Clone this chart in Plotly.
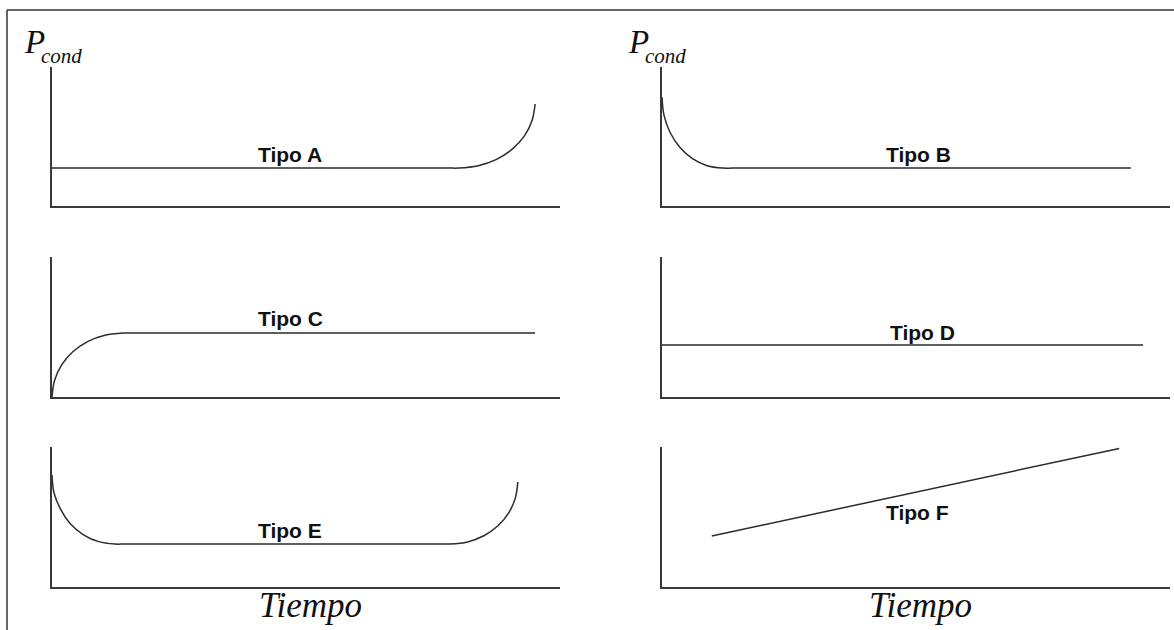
import plotly.graph_objects as go

# ---- Data (time and conduction power, arbitrary units 0-100) ----
tipo_a_t = [0, 40, 78, 80, 83.9, 87.5, 90.6, 93.0, 94.5, 95.1]
tipo_a_p = [27.3, 27.3, 27.3, 27.3, 29.0, 33.6, 40.9, 50.4, 61.5, 73.4]

tipo_b_t = [0, 0.4, 1.6, 3.5, 6.0, 8.9, 12.0, 14.0, 50, 92.3]
tipo_b_p = [78.4, 65.2, 52.9, 42.3, 34.1, 29.0, 27.3, 27.3, 27.3, 27.3]

tipo_c_t = [0, 0.5, 1.9, 4.1, 7.0, 10.4, 14.0, 16.0, 50, 95.1]
tipo_c_p = [0, 11.8, 22.9, 32.3, 39.6, 44.1, 45.7, 45.7, 45.7, 45.7]

tipo_d_t = [0, 94.7]
tipo_d_p = [37.1, 37.1]

tipo_e_t = [0, 0.4, 1.7, 3.6, 6.2, 9.2, 12.4, 14.4, 45, 76.3, 78.3, 81.8, 85.0, 87.8, 89.9, 91.2, 91.7]
tipo_e_p = [80.0, 67.2, 55.4, 45.1, 37.3, 32.4, 30.7, 30.7, 30.7, 30.7, 30.7, 32.2, 36.6, 43.7, 52.9, 63.5, 75.0]

tipo_f_t = [9.8, 90.0]
tipo_f_p = [36.4, 99.0]

labels = ["Tipo A", "Tipo B", "Tipo C", "Tipo D", "Tipo E", "Tipo F"]
label_t = [46.9, 50.4, 47.0, 51.2, 46.9, 50.2]
label_p = [36.7, 36.7, 56.4, 46.4, 40.7, 52.9]

y_title = "P"
y_sub = "cond"
x_title = "Tiempo"

series = [(tipo_a_t, tipo_a_p), (tipo_b_t, tipo_b_p), (tipo_c_t, tipo_c_p),
          (tipo_d_t, tipo_d_p), (tipo_e_t, tipo_e_p), (tipo_f_t, tipo_f_p)]

W, H = 1174, 630
xdom_left = [52 / W, 560 / W]
xdom_right = [662 / W, 1170 / W]
rows = [(206, 67), (397, 257), (587, 447)]
ydoms = [[(H - b) / H, (H - t) / H] for b, t in rows]

fig = go.Figure()
layout = {}
annotations = []
line_col = "#2b2b2b"
axis_col = "#3a3a3a"

for i, (t, p) in enumerate(series):
    n = i + 1
    xa = "x" if n == 1 else f"x{n}"
    ya = "y" if n == 1 else f"y{n}"
    fig.add_trace(go.Scatter(x=t, y=p, mode="lines", xaxis=xa, yaxis=ya,
                             line=dict(color=line_col, width=1.5, shape="spline", smoothing=1.0),
                             showlegend=False, hoverinfo="skip"))
    col = i % 2
    row = i // 2
    xkey = "xaxis" if n == 1 else f"xaxis{n}"
    ykey = "yaxis" if n == 1 else f"yaxis{n}"
    common = dict(showgrid=False, zeroline=False, showticklabels=False, ticks="",
                  showline=True, linecolor=axis_col, linewidth=2, range=[0, 100],
                  fixedrange=True)
    layout[xkey] = dict(domain=xdom_right if col else xdom_left, anchor=ya, **common)
    layout[ykey] = dict(domain=ydoms[row], anchor=xa, **common)
    annotations.append(dict(text=f"<b>{labels[i]}</b>", x=label_t[i], y=label_p[i],
                            xref=xa, yref=ya, showarrow=False, xanchor="center", yanchor="middle",
                            font=dict(family="Liberation Sans, Arial", size=21, color="#111")))

serif = "Liberation Serif, Times New Roman, serif"
for x0 in (22, 626):
    annotations.append(dict(text=f"<i>{y_title}</i>", x=x0 / W, y=(H - 42) / H, xref="paper", yref="paper",
                            showarrow=False, xanchor="left", yanchor="middle",
                            font=dict(family=serif, size=33, color="#111")))
    annotations.append(dict(text=f"<i>{y_sub}</i>", x=(x0 + 17) / W, y=(H - 56) / H, xref="paper", yref="paper",
                            showarrow=False, xanchor="left", yanchor="middle",
                            font=dict(family=serif, size=21, color="#111")))
for xc in (310, 920):
    annotations.append(dict(text=f"<i>{x_title}</i>", x=xc / W, y=(H - 605) / H, xref="paper", yref="paper",
                            showarrow=False, xanchor="center", yanchor="middle",
                            font=dict(family=serif, size=35, color="#111")))

shapes = [
    dict(type="line", xref="paper", yref="paper", x0=7 / W, x1=7 / W, y0=0, y1=(H - 10) / H,
         line=dict(color="#333", width=1.5)),
    dict(type="line", xref="paper", yref="paper", x0=7 / W, x1=1, y0=(H - 10) / H, y1=(H - 10) / H,
         line=dict(color="#333", width=1.5)),
]

fig.update_layout(width=W, height=H, margin=dict(l=0, r=0, t=0, b=0),
                  paper_bgcolor="white", plot_bgcolor="white",
                  annotations=annotations, shapes=shapes, showlegend=False, **layout)

fig.write_html("out.html", config={"displayModeBar": False},
               post_script="document.body.style.margin='0';document.body.style.overflow='hidden';")
